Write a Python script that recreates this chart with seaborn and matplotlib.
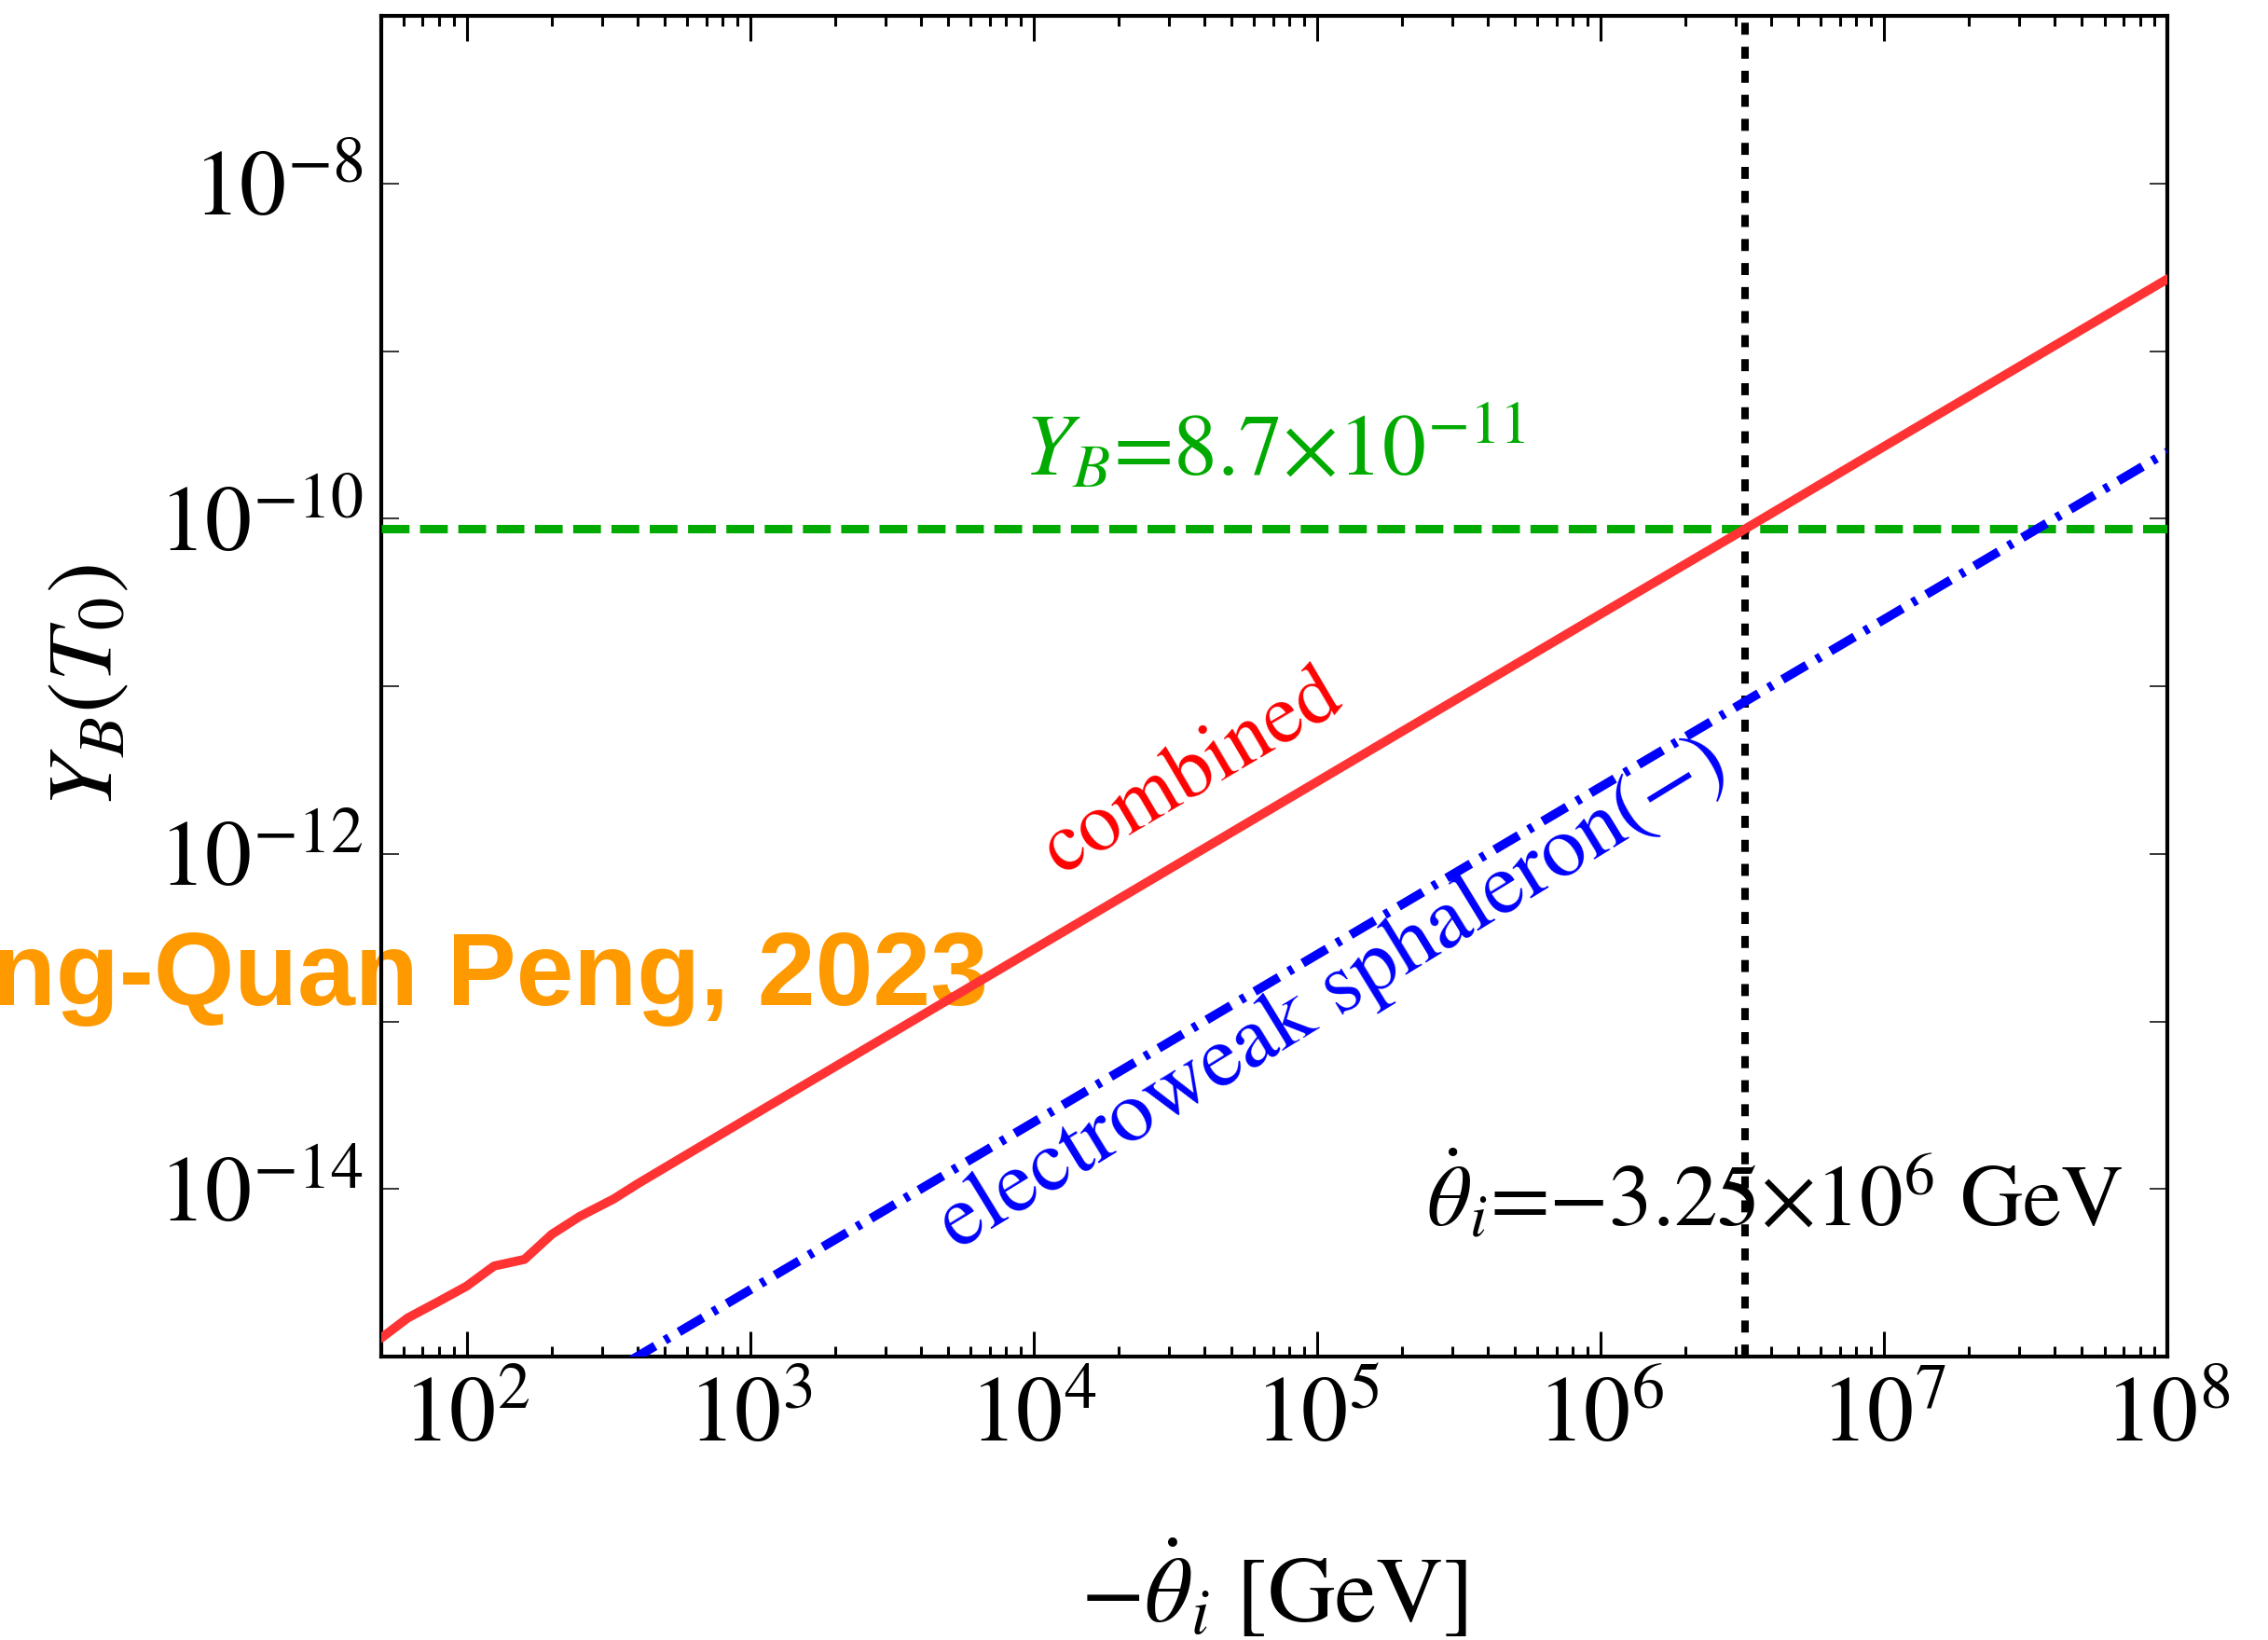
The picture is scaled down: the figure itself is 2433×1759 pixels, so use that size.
import numpy as np
import pandas as pd
import seaborn as sns
import matplotlib
matplotlib.use("Agg")
import matplotlib.pyplot as plt
from matplotlib.ticker import FixedLocator, FuncFormatter, LogLocator, NullFormatter

# ---- data ---------------------------------------------------------------
# combined baryon yield vs. -theta_dot_i
theta_combined = [50, 62, 80, 100, 125, 160, 200, 250, 330, 400,
                  1e3, 1e4, 1e5, 1e6, 3.25e6, 1e7, 1e8]
yb_combined = [1.29e-15, 1.70e-15, 2.14e-15, 2.63e-15, 3.47e-15, 3.80e-15,
               5.37e-15, 6.84e-15, 8.71e-15, 1.07e-14,
               2.69e-14, 2.69e-13, 2.69e-12, 2.69e-11, 8.7e-11, 2.69e-10, 2.69e-9]

# electroweak sphaleron(-) contribution
theta_ews = [380, 1e3, 1e4, 1e5, 1e6, 1e7, 1e8]
yb_ews = [9.5e-16, 2.5e-15, 2.5e-14, 2.5e-13, 2.5e-12, 2.5e-11, 2.5e-10]

yb_observed = 8.7e-11
theta_required = 3.25e6

x_limits = [50, 1e8]
y_limits = [1e-15, 1e-7]
y_tick_exponents = list(range(-15, -6))
y_labelled_exponents = [-14, -12, -10, -8]

df_comb = pd.DataFrame({"theta": theta_combined, "YB": yb_combined})
df_ews = pd.DataFrame({"theta": theta_ews, "YB": yb_ews})

# ---- style --------------------------------------------------------------
sns.set_theme(style="ticks")
plt.rcParams["font.family"] = ["STIXGeneral", "DejaVu Serif"]
plt.rcParams["mathtext.fontset"] = "stix"
for key in ["text.color", "axes.labelcolor", "xtick.color", "ytick.color",
            "axes.edgecolor", "xtick.labelcolor", "ytick.labelcolor"]:
    plt.rcParams[key] = "black"

W, H, DPI = 2433, 1759, 100
fig = plt.figure(figsize=(W / DPI, H / DPI), dpi=DPI)
fig.patch.set_facecolor("white")
ax = fig.add_axes([409 / W, 304 / H, (2325 - 409) / W, (1455 - 17) / H])
ax.set_xscale("log")
ax.set_yscale("log")

RED = "#ff3333"
BLUE = "#0000ff"
GREEN = "#00aa00"

sns.lineplot(data=df_comb, x="theta", y="YB", ax=ax, color=RED, lw=7,
             sort=False, estimator=None, zorder=3)
sns.lineplot(data=df_ews, x="theta", y="YB", ax=ax, color=BLUE, lw=7,
             sort=False, estimator=None, zorder=3,
             linestyle=(0, (3.1, 1.25, 0.55, 1.25)))
ax.axhline(yb_observed, color=GREEN, lw=6.5, linestyle=(0, (3.3, 1.25)), zorder=2.8)
ax.axvline(theta_required, color="black", lw=5.8, linestyle=(0, (1.6, 1.6)), zorder=2.9)

ax.set_xlim(*x_limits)
ax.set_ylim(*y_limits)

# ---- ticks --------------------------------------------------------------
TICK_FS = 72
ax.xaxis.set_major_locator(LogLocator(base=10, numticks=20))
ax.xaxis.set_minor_locator(LogLocator(base=10, subs=np.arange(2, 10), numticks=100))
ax.xaxis.set_minor_formatter(NullFormatter())
ax.xaxis.set_major_formatter(FuncFormatter(lambda v, p: r"$10^{%d}$" % round(np.log10(v))))

ax.yaxis.set_major_locator(FixedLocator([10.0 ** e for e in y_tick_exponents]))
ax.yaxis.set_minor_locator(FixedLocator([]))
ax.yaxis.set_major_formatter(FuncFormatter(
    lambda v, p: (r"$10^{%d}$" % round(np.log10(v)))
    if round(np.log10(v)) in y_labelled_exponents else ""))

ax.tick_params(axis="x", which="major", direction="in", length=19.5, width=2.2,
               top=True, bottom=True, labelsize=TICK_FS, pad=16, color="black",
               labelcolor="black")
ax.tick_params(axis="x", which="minor", direction="in", length=8, width=2.2,
               top=True, bottom=True, color="black")
ax.tick_params(axis="y", which="major", direction="in", length=13.7, width=1.1,
               left=True, right=True, labelsize=TICK_FS, pad=14, color="black",
               labelcolor="black")

for s in ax.spines.values():
    s.set_linewidth(3)
    s.set_color("black")
    s.set_zorder(2.5)

# ---- axis labels --------------------------------------------------------
ax.set_xlabel(r"$-\dot{\theta}_i$ [GeV]", fontsize=72, va="baseline", color="black")
ax.xaxis.set_label_coords(0.5, -0.1985)
ax.set_ylabel(r"$Y_B(T_0)$", fontsize=72, va="center", color="black")
ax.yaxis.set_label_coords(-0.1630, 0.5)

# ---- annotations --------------------------------------------------------
ax.text(0.4546, 0.4346, "combined", color="red", fontsize=65, rotation=30.5,
        rotation_mode="anchor", ha="center", va="center", transform=ax.transAxes)
ax.text(0.5334, 0.2698, "electroweak sphaleron(\u2212)", color=BLUE, fontsize=68,
        rotation=31.5, rotation_mode="anchor", ha="center", va="center",
        transform=ax.transAxes)
ax.text(0.5, 0.6578, "$Y_B$=8.7\u00d710$^{-11}$", color=GREEN, fontsize=67.5,
        ha="center", va="baseline", transform=ax.transAxes)
ax.text(0.585, 0.0974, "$\\dot{\\theta}_i$=\u22123.25\u00d710$^{6}$ GeV", color="black",
        fontsize=67, ha="left", va="baseline", transform=ax.transAxes)

# author credit, drawn beneath the curves and frame
ax.text(1060 / W, (H - 1078) / H, "ng-Quan Peng, 2023", color="#ff9900",
        fontsize=80, fontweight="bold", family=["Liberation Sans", "DejaVu Sans"],
        ha="right", va="baseline", transform=fig.transFigure, zorder=1.5,
        clip_on=False)

fig.savefig("out.png", dpi=DPI, facecolor="white")
